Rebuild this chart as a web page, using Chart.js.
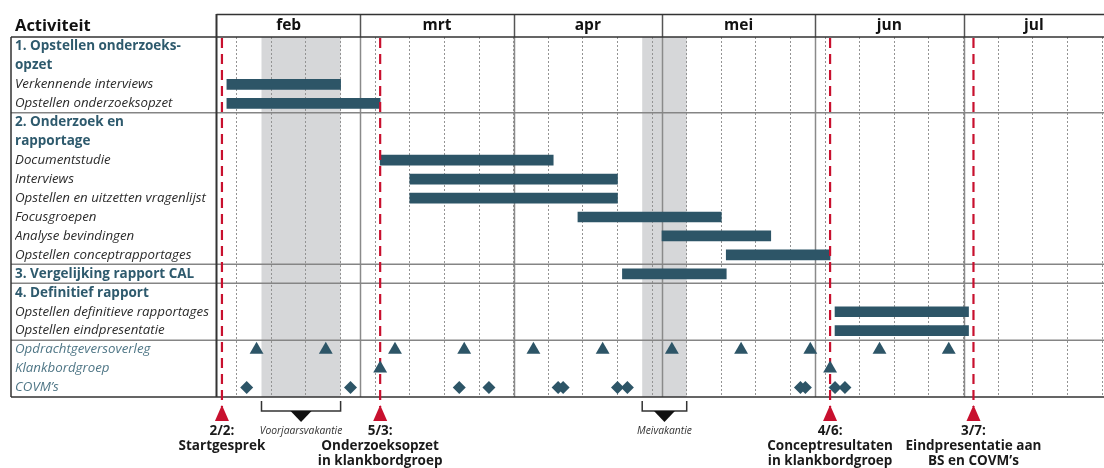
<!DOCTYPE html>
<html><head><meta charset="utf-8">
<script src="https://cdn.jsdelivr.net/npm/chart.js@4"></script>
<style>html,body{margin:0;padding:0;background:#fff}canvas{display:block}</style>
</head><body>
<canvas id="c" width="1104" height="468"></canvas>
<script>
// ---------- data ----------
const rows = ['1. Opstellen onderzoeks-','opzet','Verkennende interviews','Opstellen onderzoeksopzet',
  '2. Onderzoek en','rapportage','Documentstudie','Interviews','Opstellen en uitzetten vragenlijst',
  'Focusgroepen','Analyse bevindingen','Opstellen conceptrapportages','3. Vergelijking rapport CAL',
  '4. Definitief rapport','Opstellen definitieve rapportages','Opstellen eindpresentatie',
  'Opdrachtgeversoverleg','Klankbordgroep','COVM\u2019s'];
const headingRows = ['1. Opstellen onderzoeks-','opzet','2. Onderzoek en','rapportage','3. Vergelijking rapport CAL','4. Definitief rapport'];
const meetingRows = ['Opdrachtgeversoverleg','Klankbordgroep','COVM\u2019s'];
const sectionStarts = ['2. Onderzoek en','3. Vergelijking rapport CAL','4. Definitief rapport','Opdrachtgeversoverleg'];

const taskNames = ['Verkennende interviews','Opstellen onderzoeksopzet','Documentstudie','Interviews',
  'Opstellen en uitzetten vragenlijst','Focusgroepen','Analyse bevindingen','Opstellen conceptrapportages',
  '3. Vergelijking rapport CAL','Opstellen definitieve rapportages','Opstellen eindpresentatie'];
const taskStart = ['2024-02-03','2024-02-03','2024-03-05','2024-03-11','2024-03-11','2024-04-14',
  '2024-05-01','2024-05-14','2024-04-23','2024-06-05','2024-06-05'];
const taskEnd = ['2024-02-26','2024-03-05','2024-04-09','2024-04-22','2024-04-22','2024-05-13',
  '2024-05-23','2024-06-04','2024-05-14','2024-07-02','2024-07-02'];

const overlegDates = ['2024-02-09','2024-02-23','2024-03-08','2024-03-22','2024-04-05','2024-04-19',
  '2024-05-03','2024-05-17','2024-05-31','2024-06-14','2024-06-28'];
const klankbordDates = ['2024-03-05','2024-06-04'];
const covmDates = ['2024-02-07','2024-02-28','2024-03-21','2024-03-27','2024-04-10','2024-04-11',
  '2024-04-22','2024-04-24','2024-05-29','2024-05-30','2024-06-05','2024-06-07'];

const milestoneDates = ['2024-02-02','2024-03-05','2024-06-04','2024-07-03'];
const milestoneLabels = [['2/2:','Startgesprek'],['5/3:','Onderzoeksopzet','in klankbordgroep'],
  ['4/6:','Conceptresultaten','in klankbordgroep'],['3/7:','Eindpresentatie aan','BS en COVM\u2019s']];

const holidayNames = ['Voorjaarsvakantie','Meivakantie'];
const holidayFrom = ['2024-02-10','2024-04-27'];
const holidayTo = ['2024-02-26','2024-05-06'];

const monthNames = ['feb','mrt','apr','mei','jun','jul'];
const monthStarts = ['2024-02-01','2024-03-01','2024-04-01','2024-05-01','2024-06-01','2024-07-01'];
const firstMonday = '2024-02-05';
const axisEnd = 179.4; // days after 1 Feb visible (≈ 29 Jul)

// ---------- helpers ----------
const DAY0 = Date.UTC(2024, 1, 1);
const day = s => (Date.UTC(+s.slice(0,4), +s.slice(5,7)-1, +s.slice(8,10)) - DAY0) / 864e5;
const FONT = "'Open Sans', 'Noto Sans', sans-serif";
const TEAL = '#2d5567', RED = '#c8102e', SHADE = '#d6d7d9';

const structure = {
  id: 'structure',
  beforeDraw(chart) {
    const {ctx, chartArea: a, scales: {x}} = chart;
    ctx.save();
    ctx.fillStyle = SHADE;
    holidayFrom.forEach((f, i) => {
      const x1 = x.getPixelForValue(day(f)), x2 = x.getPixelForValue(day(holidayTo[i]));
      ctx.fillRect(x1, a.top, x2 - x1, a.bottom - a.top);
    });
    ctx.restore();
  },
  beforeDatasetsDraw(chart) {
    const {ctx, chartArea: a, scales: {x, y}} = chart;
    const L = 11, R = chart.width, T = 14;
    ctx.save();
    // month separators
    monthStarts.slice(1).forEach(m => {
      const px = Math.round(x.getPixelForValue(day(m))) + 0.5;
      ctx.strokeStyle = '#8a8a8a'; ctx.lineWidth = 1.5;
      ctx.beginPath(); ctx.moveTo(px, a.top); ctx.lineTo(px, a.bottom); ctx.stroke();
      ctx.strokeStyle = '#555'; ctx.lineWidth = 1.5;
      ctx.beginPath(); ctx.moveTo(px, T); ctx.lineTo(px, a.top); ctx.stroke();
    });
    // section separators
    ctx.strokeStyle = '#858585'; ctx.lineWidth = 1.5;
    sectionStarts.forEach(r => {
      const i = rows.indexOf(r);
      const py = (y.getPixelForValue(i - 1) + y.getPixelForValue(i)) / 2;
      ctx.beginPath(); ctx.moveTo(L, py); ctx.lineTo(R, py); ctx.stroke();
    });
    // frame
    ctx.strokeStyle = '#333'; ctx.lineWidth = 1.5;
    ctx.beginPath();
    ctx.moveTo(a.left - 0.5, T + 0.5); ctx.lineTo(R, T + 0.5);
    ctx.moveTo(L, a.top); ctx.lineTo(R, a.top);
    ctx.moveTo(L, a.bottom); ctx.lineTo(R, a.bottom);
    ctx.moveTo(L, a.top); ctx.lineTo(L, a.bottom);
    ctx.stroke();
    ctx.lineWidth = 2;
    ctx.beginPath(); ctx.moveTo(a.left - 0.5, T); ctx.lineTo(a.left - 0.5, a.bottom); ctx.stroke();
    ctx.restore();
  },
  afterDatasetDraw(chart, args) {
    if (args.index !== 0) return;
    const {ctx, chartArea: a, scales: {x}} = chart;
    ctx.save();
    ctx.strokeStyle = RED; ctx.lineWidth = 2.2; ctx.setLineDash([10, 6]);
    milestoneDates.forEach(d => {
      const px = x.getPixelForValue(day(d));
      ctx.beginPath(); ctx.moveTo(px, a.top + 1); ctx.lineTo(px, a.bottom + 10); ctx.stroke();
    });
    ctx.restore();
  },
  afterDraw(chart) {
    const {ctx, chartArea: a, scales: {x}} = chart;
    ctx.save();
    ctx.fillStyle = '#111'; ctx.font = `bold 16.5px ${FONT}`;
    ctx.textAlign = 'left'; ctx.textBaseline = 'middle';
    ctx.fillText('Activiteit', 15, 26);
    milestoneDates.forEach((d, i) => {
      const px = x.getPixelForValue(day(d));
      ctx.fillStyle = RED;
      ctx.beginPath(); ctx.moveTo(px, a.bottom + 8); ctx.lineTo(px + 7, a.bottom + 24); ctx.lineTo(px - 7, a.bottom + 24); ctx.closePath(); ctx.fill();
      ctx.fillStyle = '#1a1a1a'; ctx.font = `bold 13.5px ${FONT}`; ctx.textAlign = 'center';
      milestoneLabels[i].forEach((t, k) => ctx.fillText(t, px, a.bottom + 34 + k * 15));
    });
    holidayNames.forEach((n, i) => {
      const x1 = x.getPixelForValue(day(holidayFrom[i])), x2 = x.getPixelForValue(day(holidayTo[i]));
      const xc = (x1 + x2) / 2, yb = a.bottom + 14;
      ctx.strokeStyle = '#333'; ctx.lineWidth = 1.5;
      ctx.beginPath(); ctx.moveTo(x1, a.bottom + 4); ctx.lineTo(x1, yb); ctx.lineTo(x2, yb); ctx.lineTo(x2, a.bottom + 4); ctx.stroke();
      ctx.fillStyle = '#111';
      ctx.beginPath(); ctx.moveTo(xc - 10.5, yb); ctx.lineTo(xc + 10.5, yb); ctx.lineTo(xc, yb + 11); ctx.closePath(); ctx.fill();
      ctx.fillStyle = '#333'; ctx.font = `italic 10.3px ${FONT}`; ctx.textAlign = 'center';
      ctx.fillText(n, xc, a.bottom + 34);
    });
    ctx.restore();
  }
};

const pts = (dates, row) => dates.map(d => ({x: day(d), y: row}));

new Chart(document.getElementById('c'), {
  type: 'bar',
  data: {
    labels: rows,
    datasets: [
      {type: 'bar', data: taskNames.map((n, i) => ({x: [day(taskStart[i]), day(taskEnd[i])], y: n})),
       backgroundColor: TEAL, barThickness: 10, order: 5, borderSkipped: false},
      {type: 'scatter', data: pts(overlegDates, 'Opdrachtgeversoverleg'), pointStyle: 'triangle',
       pointRadius: 8, backgroundColor: TEAL, borderColor: TEAL, borderWidth: 0, order: 1, clip: false},
      {type: 'scatter', data: pts(klankbordDates, 'Klankbordgroep'), pointStyle: 'triangle',
       pointRadius: 8, backgroundColor: TEAL, borderColor: TEAL, borderWidth: 0, order: 1, clip: false},
      {type: 'scatter', data: pts(covmDates, 'COVM\u2019s'), pointStyle: 'rectRot',
       pointRadius: 6.5, backgroundColor: TEAL, borderColor: TEAL, borderWidth: 0, order: 1, clip: false}
    ]
  },
  options: {
    indexAxis: 'y',
    responsive: false,
    animation: false,
    layout: {autoPadding: false, padding: {left: 15, right: 0, top: 14, bottom: 71}},
    plugins: {legend: {display: false}, tooltip: {enabled: false}},
    scales: {
      y: {
        type: 'category', position: 'left', offset: true,
        grid: {display: false}, border: {display: false},
        afterFit: s => { s.width = 202; },
        ticks: {
          autoSkip: false, crossAlign: 'far', padding: 0,
          font: c => {
            const l = rows[c.index];
            if (headingRows.includes(l)) return {family: FONT, size: 13.5, weight: 'bold'};
            return {family: FONT, size: 13.3, style: 'italic'};
          },
          color: c => {
            const l = rows[c.index];
            if (headingRows.includes(l)) return '#2e5a6d';
            if (meetingRows.includes(l)) return '#4f7686';
            return '#2b2b2b';
          }
        }
      },
      x: {
        type: 'linear', position: 'bottom', min: 0, max: axisEnd,
        afterBuildTicks: s => {
          const t = [];
          for (let v = day(firstMonday); v <= axisEnd; v += 7) t.push({value: v});
          s.ticks = t;
        },
        afterFit: s => { s.height = 0; },
        ticks: {display: false},
        grid: {color: '#939393', lineWidth: 1, drawTicks: false},
        border: {display: false, dash: [2, 2]}
      },
      xm: {
        type: 'linear', position: 'top', min: 0, max: axisEnd,
        afterBuildTicks: s => {
          s.ticks = monthStarts.map((m, i) => ({
            value: (day(m) + (i < monthStarts.length - 1 ? day(monthStarts[i + 1]) : axisEnd)) / 2
          }));
        },
        afterFit: s => { s.height = 23; },
        grid: {display: false, drawTicks: false}, border: {display: false},
        ticks: {autoSkip: false, maxRotation: 0, padding: 2, color: '#111',
          font: {family: FONT, size: 15.5, weight: 'bold'},
          callback: (v, i) => monthNames[i]}
      }
    }
  },
  plugins: [structure]
});
</script>
</body></html>
